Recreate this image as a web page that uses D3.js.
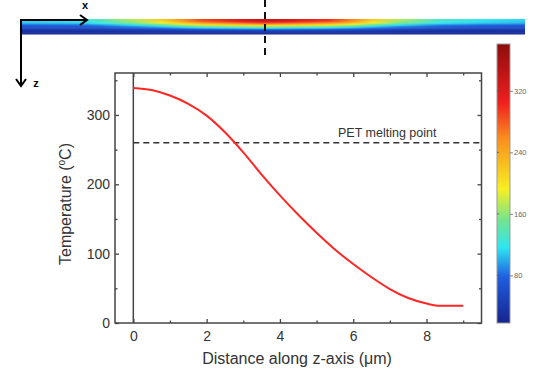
<!DOCTYPE html>
<html>
<head>
<meta charset="utf-8">
<script src="https://cdn.jsdelivr.net/npm/d3@7/dist/d3.min.js"></script>
<style>
  html, body { margin: 0; padding: 0; background: #fff; }
  svg { display: block; font-family: "Liberation Sans", Arial, sans-serif; }
</style>
</head>
<body>
<svg id="chart" width="534" height="380"></svg>
<script>
// ---- Data ----
// Temperature profile along depth (z, µm) at the centre of the heated zone
const depthZ = [0, 0.5, 1, 1.5, 2, 2.5, 3, 3.5, 4, 4.5, 5, 5.5, 6, 6.5, 7, 7.5, 8, 8.3, 8.5, 9];
const depthT = [339, 336, 328, 316, 299, 275, 246, 214, 184, 156, 130, 106, 85, 66, 49, 36, 28, 25, 25, 25];

// Surface temperature along the strip (position as % of strip length)
const surfacePos = [0, 12, 16, 22, 28, 32, 36, 44, 48, 53, 61, 66, 70, 75, 83, 91, 100];
const surfaceT   = [115, 122, 138, 172, 215, 255, 290, 325, 340, 328, 300, 260, 215, 172, 132, 120, 112];

// Reference line
const meltingPoint = 260;
const meltingLabel = "PET melting point";

// Axis ticks
const xMajorTicks = [0, 2, 4, 6, 8];
const xMinorTicks = [1, 3, 5, 7, 9];
const yMajorTicks = [0, 100, 200, 300];
const yMinorTicks = [50, 150, 250, 350];
const cbTicks = [80, 160, 240, 320];

// Colour map stops (value -> colour)
const cmapValues = [18, 78, 116, 152, 192, 258, 305, 381];
const cmapColors = ["#16238e", "#1f5fe0", "#2ee6f2", "#74e48e", "#f7ef22", "#f98e1e", "#ef1f1f", "#8e0c0c"];

// ---- Layout ----
const svg = d3.select("#chart");
const plot = { left: 115, right: 481.5, top: 73, bottom: 323 };

const x = d3.scaleLinear().domain([-0.5, 9.5]).range([plot.left, plot.right]);
const y = d3.scaleLinear().domain([0, 360.5]).range([plot.bottom, plot.top]);
const color = d3.scaleLinear().domain(cmapValues).range(cmapColors).clamp(true);

const axisColor = "#444";
const textColor = "#333";

// ---- Top strip (heat map) ----
const strip = { left: 21, right: 525, top: 19, bottom: 34 };
const sx = d3.scaleLinear().domain([0, 100]).range([strip.left, strip.right]);
const sz = d3.scaleLinear().domain([0, d3.max(depthZ)]).range([strip.top, strip.bottom]);
const tMin = d3.min(depthT), tMax = d3.max(depthT);
const defs = svg.append("defs");
const rows = depthZ.slice(0, -1).map((z, i) => ({ z0: z, z1: depthZ[i + 1], f: (depthT[i] - tMin) / (tMax - tMin) }));
rows.forEach((r, i) => {
  const g = defs.append("linearGradient").attr("id", "row" + i)
    .attr("x1", "0%").attr("x2", "100%").attr("y1", "0%").attr("y2", "0%");
  g.selectAll("stop").data(surfacePos).join("stop")
    .attr("offset", d => d + "%")
    .attr("stop-color", (d, j) => color(tMin + (surfaceT[j] - tMin) * r.f));
});
svg.append("g").selectAll("rect").data(rows).join("rect")
  .attr("x", sx(0)).attr("width", sx(100) - sx(0))
  .attr("y", d => sz(d.z0)).attr("height", d => sz(d.z1) - sz(d.z0) + 0.5)
  .attr("fill", (d, i) => `url(#row${i})`);

// dashed centre line through strip
svg.append("line").attr("x1", 265).attr("x2", 265).attr("y1", 0).attr("y2", 60)
  .attr("stroke", "#111").attr("stroke-width", 2).attr("stroke-dasharray", "7,5");

// coordinate arrows
const arrowG = svg.append("g").attr("stroke", "#000").attr("stroke-width", 2).attr("fill", "none");
arrowG.append("path").attr("d", "M21,86 L21,20 L87,20");
arrowG.append("path").attr("d", "M80,15 L87,20 L80,25");
arrowG.append("path").attr("d", "M16,79 L21,86 L26,79");
svg.append("text").attr("x", 85).attr("y", 9).attr("text-anchor", "middle")
  .attr("font-size", 11).attr("font-weight", "bold").attr("fill", "#000").text("x");
svg.append("text").attr("x", 36).attr("y", 87).attr("text-anchor", "middle")
  .attr("font-size", 11).attr("font-weight", "bold").attr("fill", "#000").text("z");

// ---- Main plot ----
// vertical line at x = 0
svg.append("line").attr("x1", x(0)).attr("x2", x(0)).attr("y1", plot.top).attr("y2", plot.bottom)
  .attr("stroke", axisColor).attr("stroke-width", 1.5);

// melting point dashed line
svg.append("line").attr("x1", x(0)).attr("x2", plot.right).attr("y1", y(meltingPoint)).attr("y2", y(meltingPoint))
  .attr("stroke", "#333").attr("stroke-width", 1.4).attr("stroke-dasharray", "6,4");
svg.append("text").attr("x", 338).attr("y", y(meltingPoint) - 6).attr("font-size", 12.5)
  .attr("fill", textColor).text(meltingLabel);

// curve
const line = d3.line().x((d, i) => x(depthZ[i])).y(d => y(d)).curve(d3.curveMonotoneX);
svg.append("path").datum(depthT).attr("d", line)
  .attr("fill", "none").attr("stroke", "#ff2626").attr("stroke-width", 2);

// axes
function styleAxis(g) {
  g.select(".domain").remove();
  g.selectAll(".tick line").attr("stroke", axisColor).attr("stroke-width", 1.3);
  g.selectAll(".tick text").attr("fill", textColor).attr("font-size", 14)
    .attr("font-family", "'Liberation Sans', Arial, sans-serif");
}
svg.append("g").attr("transform", `translate(0,${plot.bottom})`)
  .call(d3.axisBottom(x).tickValues(xMajorTicks).tickSize(-4).tickPadding(8)).call(styleAxis);
svg.append("g").attr("transform", `translate(0,${plot.bottom})`)
  .call(d3.axisBottom(x).tickValues(xMinorTicks).tickSize(-2.5).tickFormat("")).call(styleAxis);
svg.append("g").attr("transform", `translate(0,${plot.top})`)
  .call(d3.axisTop(x).tickValues(xMajorTicks).tickSize(-4).tickFormat("")).call(styleAxis);
svg.append("g").attr("transform", `translate(0,${plot.top})`)
  .call(d3.axisTop(x).tickValues(xMinorTicks).tickSize(-2.5).tickFormat("")).call(styleAxis);
svg.append("g").attr("transform", `translate(${plot.left},0)`)
  .call(d3.axisLeft(y).tickValues(yMajorTicks).tickSize(-4).tickPadding(5)).call(styleAxis);
svg.append("g").attr("transform", `translate(${plot.left},0)`)
  .call(d3.axisLeft(y).tickValues(yMinorTicks).tickSize(-2.5).tickFormat("")).call(styleAxis);
svg.append("g").attr("transform", `translate(${plot.right},0)`)
  .call(d3.axisRight(y).tickValues(yMajorTicks).tickSize(-4).tickFormat("")).call(styleAxis);
svg.append("g").attr("transform", `translate(${plot.right},0)`)
  .call(d3.axisRight(y).tickValues(yMinorTicks).tickSize(-2.5).tickFormat("")).call(styleAxis);

// frame
svg.append("rect").attr("x", plot.left).attr("y", plot.top)
  .attr("width", plot.right - plot.left).attr("height", plot.bottom - plot.top)
  .attr("fill", "none").attr("stroke", axisColor).attr("stroke-width", 1.5);

// axis titles
svg.append("text").attr("x", 297).attr("y", 364).attr("text-anchor", "middle")
  .attr("font-size", 16).attr("fill", textColor).text("Distance along z-axis (\u03bcm)");
const yt = svg.append("text").attr("transform", "translate(71,204) rotate(-90)")
  .attr("text-anchor", "middle").attr("font-size", 16).attr("fill", textColor);
yt.append("tspan").text("Temperature (");
yt.append("tspan").attr("font-size", 10).attr("dy", -6).text("o");
yt.append("tspan").attr("dy", 6).text("C)");

// ---- Colour bar ----
const cb = { left: 497, right: 510, top: 44, bottom: 323 };
const cy = d3.scaleLinear().domain([cmapValues[0], cmapValues[cmapValues.length - 1]]).range([cb.bottom, cb.top]);
const cbGrad = defs.append("linearGradient").attr("id", "cbgrad")
  .attr("x1", "0%").attr("x2", "0%").attr("y1", "100%").attr("y2", "0%");
cbGrad.selectAll("stop").data(cmapValues).join("stop")
  .attr("offset", d => ((d - cmapValues[0]) / (cmapValues[cmapValues.length - 1] - cmapValues[0]) * 100) + "%")
  .attr("stop-color", (d, i) => cmapColors[i]);
svg.append("rect").attr("x", cb.left).attr("y", cb.top)
  .attr("width", cb.right - cb.left).attr("height", cb.bottom - cb.top)
  .attr("fill", "url(#cbgrad)").attr("stroke", "#999").attr("stroke-width", 1);
const cbAxis = svg.append("g").attr("transform", `translate(${cb.right},0)`)
  .call(d3.axisRight(cy).tickValues(cbTicks).tickSize(3).tickPadding(1));
cbAxis.select(".domain").remove();
cbAxis.selectAll(".tick line").attr("stroke", "#666").attr("stroke-width", 0.8);
cbAxis.selectAll(".tick text").attr("fill", "#666").attr("font-size", 7.5)
  .attr("font-family", "'Liberation Sans', Arial, sans-serif");
svg.append("g").selectAll("line").data(cbTicks).join("line")
  .attr("x1", cb.left).attr("x2", cb.left + 2).attr("y1", d => cy(d)).attr("y2", d => cy(d))
  .attr("stroke", "#555").attr("stroke-width", 0.8);
</script>
</body>
</html>
